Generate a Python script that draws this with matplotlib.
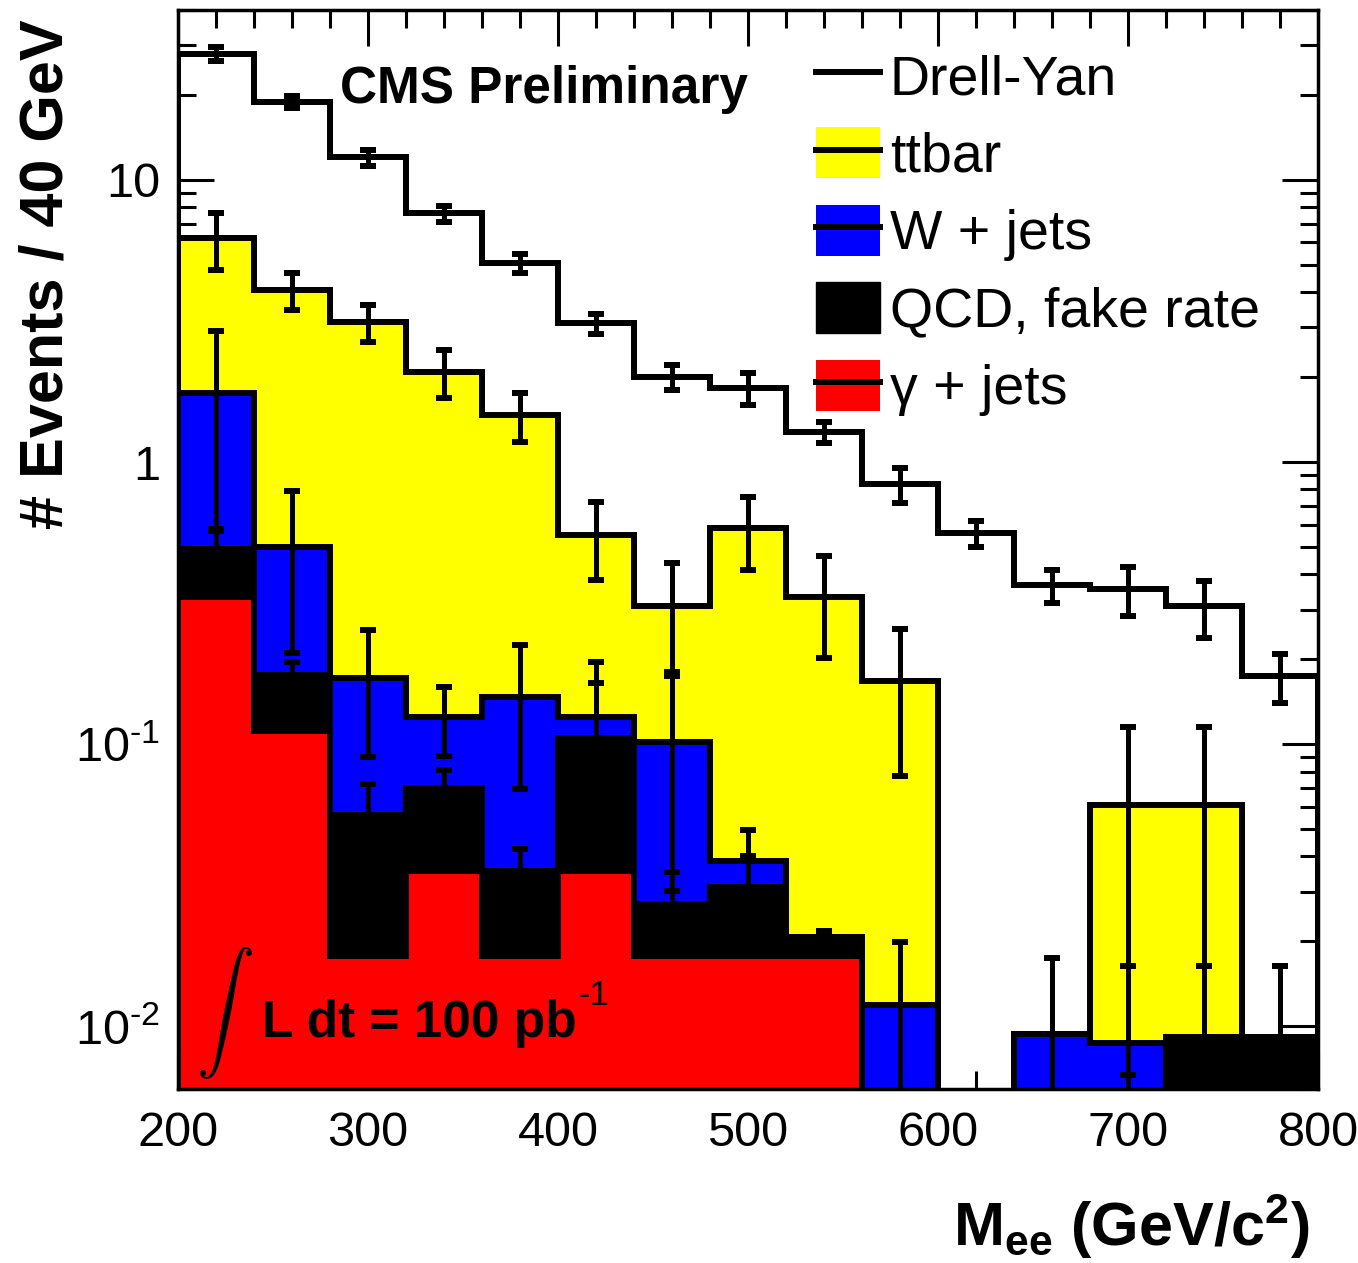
import numpy as np
import matplotlib
matplotlib.use('Agg')
import matplotlib.pyplot as plt
from matplotlib.patches import Patch
from matplotlib.lines import Line2D
from matplotlib.ticker import MultipleLocator, LogLocator, NullFormatter, FuncFormatter

plt.rcParams['font.family'] = ['Liberation Sans', 'DejaVu Sans']
plt.rcParams['mathtext.fontset'] = 'custom'
plt.rcParams['mathtext.rm'] = 'Liberation Sans'
plt.rcParams['mathtext.it'] = 'Liberation Sans:italic'
plt.rcParams['mathtext.bf'] = 'Liberation Sans:bold'

# M_ee bins, 40 GeV wide
edges = np.arange(200, 801, 40)

# events per bin for each sample, stacked bottom -> top
gamma_jets = [0.333, 0.111, 0.0177, 0.0354, 0.0177, 0.0354, 0.0177, 0.0177, 0.0177, 0, 0, 0, 0, 0, 0]
qcd = [0.157, 0.065, 0.0386, 0.0346, 0.0177, 0.0696, 0.0094, 0.0136, 0.003, 0, 0, 0, 0, 0.0092, 0.0092]
wjets = [1.26, 0.324, 0.116, 0.055, 0.112, 0.020, 0.075, 0.0072, 0, 0.0119, 0, 0.0094, 0.0087, 0, 0]
ttbar = [4.45, 3.56, 2.96, 1.96, 1.32, 0.427, 0.208, 0.546, 0.312, 0.155, 0, 0, 0.052, 0.0515, 0]
drell_yan = [21.8, 14.84, 8.87, 5.52, 3.59, 2.548, 1.69, 1.246, 0.947, 0.669, 0.56, 0.356, 0.293, 0.248, 0.165]

# stat. errors, drawn on top of each stacked layer
gamma_err = [0] * 15
qcd_err = [0.08, 0.02, 0.016, 0.011, 0.007, 0.06, 0.008, 0.009, 0.001, 0, 0, 0, 0, 0.0071, 0.0071]
wjets_err = [1.17, 0.29, 0.082, 0.034, 0.078, 0.071, 0.072, 0.011, 0, 0.008, 0, 0.008, 0.0077, 0, 0]
ttbar_err = [1.4, 0.6, 0.47, 0.4, 0.29, 0.17, 0.13, 0.17, 0.13, 0.09, 0, 0, 0.054, 0.054, 0]
dy_err = [1.6, 0.9, 0.8, 0.5, 0.4, 0.26, 0.2, 0.24, 0.11, 0.12, 0.06, 0.05, 0.07, 0.07, 0.034]

labels = ['Drell-Yan', 'ttbar', 'W + jets', 'QCD, fake rate', '\u03b3 + jets']

floor = 1e-5
lw = 4.3

fig = plt.figure(figsize=(13.58, 12.63), dpi=100)
ax = fig.add_axes([0.1311, 0.1378, 0.8394, 0.8543])
ax.set_yscale('log')
ax.set_axisbelow(True)

layers = [gamma_jets, qcd, wjets, ttbar, drell_yan]
errs = [gamma_err, qcd_err, wjets_err, ttbar_err, dy_err]
colors = ['#ff0000', 'black', '#0000ff', '#ffff00', None]
cum = np.cumsum(np.array(layers), axis=0)

# draw from the top of the stack down, like ROOT's THStack
for i in range(4, -1, -1):
    top = np.maximum(cum[i], floor)
    if colors[i] is None:
        ax.stairs(top, edges, baseline=floor, fill=False, color='black', lw=lw)
    else:
        ax.stairs(top, edges, baseline=floor, fill=True, facecolor=colors[i],
                  edgecolor='black', lw=lw)

centers = 0.5 * (edges[:-1] + edges[1:])
for i in range(5):
    e = np.asarray(errs[i], dtype=float)
    m = (e > 0) & (cum[i] > 0)
    if not m.any():
        continue
    lo = np.minimum(e[m], cum[i][m] - 1e-3)
    ax.errorbar(centers[m], cum[i][m], yerr=[lo, e[m]], fmt='none', ecolor='black',
                elinewidth=3.6, capsize=6.1, capthick=4.3)

ax.set_xlim(200, 800)
ax.set_ylim(0.006, 40)

ax.xaxis.set_major_locator(MultipleLocator(100))
ax.xaxis.set_minor_locator(MultipleLocator(20))
ax.yaxis.set_major_locator(LogLocator(base=10))
ax.yaxis.set_minor_locator(LogLocator(base=10, subs=np.arange(2, 10)))
ax.yaxis.set_minor_formatter(NullFormatter())


def ylab(v, pos):
    if v >= 1:
        return '%d' % round(v)
    return r'$10^{\text{-}%d}$' % round(-np.log10(v))


ax.yaxis.set_major_formatter(FuncFormatter(ylab))
ax.tick_params(which='both', direction='in', top=True, right=True, width=2.2, labelsize=35)
ax.tick_params(which='major', length=26)
ax.tick_params(which='minor', length=13)
ax.tick_params(axis='x', pad=16)
ax.tick_params(axis='y', pad=13)
for s in ax.spines.values():
    s.set_linewidth(2.5)

ax.set_ylabel('# Events / 40 GeV', fontsize=44, fontweight='bold', loc='top')
ax.yaxis.set_label_coords(-0.090, 0.991)
ax.set_xlabel(r'$\mathbf{M_{ee}\ (GeV/c^{2})}$', fontsize=44, loc='right')
ax.xaxis.set_label_coords(0.993, -0.095)

ax.text(0.142, 0.9138, 'CMS Preliminary', transform=ax.transAxes, fontsize=37,
        fontweight='bold', va='baseline', ha='left')
ax.text(0.0404, 0.0704, r'$\int$', transform=ax.transAxes, fontsize=42,
        math_fontfamily='cm', va='center', ha='center')
ax.text(0.0737, 0.0482, 'L dt = 100 pb', transform=ax.transAxes, fontsize=37,
        fontweight='bold', va='baseline', ha='left')
ax.text(0.3509, 0.0778, '-1', transform=ax.transAxes, fontsize=25,
        va='baseline', ha='left')

line = lambda: Line2D([], [], color='black', lw=lw)
handles = [
    line(),
    (Patch(facecolor='#ffff00', edgecolor='none'), line()),
    (Patch(facecolor='#0000ff', edgecolor='none'), line()),
    Patch(facecolor='black', edgecolor='black'),
    (Patch(facecolor='#ff0000', edgecolor='none'), line()),
]
ax.legend(handles, labels, loc='upper left', bbox_to_anchor=(0.5596, 0.963),
          borderaxespad=0, borderpad=0, frameon=False, fontsize=40,
          handlelength=1.15, handleheight=1.03, handletextpad=0.18, labelspacing=0.38)

fig.savefig('out.png', dpi=100)
